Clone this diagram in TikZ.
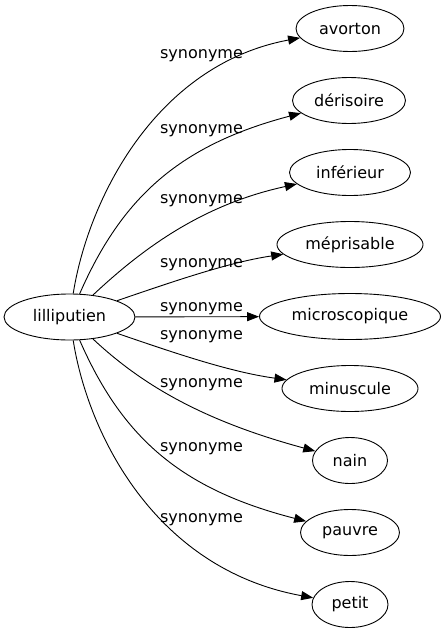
\documentclass[tikz,border=0pt]{standalone}
\usepackage{fontspec}
\setmainfont{DejaVu Sans}
\usetikzlibrary{arrows.meta,shapes.geometric}
\begin{document}
\begin{tikzpicture}[x=1pt,y=-1pt,
  word/.style={draw, ellipse, line width=0.9pt, inner sep=0pt, minimum height=46pt, font=\fontsize{16}{19}\selectfont},
  rel/.style={-{Triangle[length=12pt,width=9pt]}, line width=0.9pt},
  lab/.style={anchor=base, inner sep=0pt, font=\fontsize{16}{19}\selectfont}]
\useasboundingbox (0,0) rectangle (446,635);
\node[word, minimum width=131pt] (lil) at (69.5,317) {lilliputien};
\node[word, minimum width=108pt] (avorton) at (350,28.5) {avorton};
\node[word, minimum width=113pt] (derisoire) at (349,100.5) {dérisoire};
\node[word, minimum width=121pt] (inferieur) at (350,172.5) {inférieur};
\node[word, minimum width=146pt] (meprisable) at (350,244.5) {méprisable};
\node[word, minimum width=181pt] (micro) at (350,316.5) {microscopique};
\node[word, minimum width=136pt] (minuscule) at (350,388.5) {minuscule};
\node[word, minimum width=75pt] (nain) at (350,460.5) {nain};
\node[word, minimum width=99pt] (pauvre) at (350,532.5) {pauvre};
\node[word, minimum width=76pt] (petit) at (350,604.5) {petit};

\node[lab] (l1) at (201.5,58) {synonyme};
\node[lab] (l2) at (201.5,133) {synonyme};
\node[lab] (l3) at (201.5,203) {synonyme};
\node[lab] (l4) at (201.5,267) {synonyme};
\node[lab] (l5) at (201.5,311) {synonyme};
\node[lab] (l6) at (201.5,339) {synonyme};
\node[lab] (l7) at (201.5,387) {synonyme};
\node[lab] (l8) at (201.5,451) {synonyme};
\node[lab] (l9) at (201.5,522) {synonyme};

\draw[rel] (lil) .. controls (88,200) and (155,65) .. (avorton);
\draw[rel] (lil) .. controls (122,197) and (180,145) .. (derisoire);
\draw[rel] (lil) .. controls (140,251) and (200,205) .. (inferieur);
\draw[rel] (lil) .. controls (174.5,281) and (230,262) .. (meprisable);
\draw[rel] (lil) -- (micro);
\draw[rel] (lil) .. controls (174.5,353) and (230,372) .. (minuscule);
\draw[rel] (lil) .. controls (140,383) and (200,420) .. (nain);
\draw[rel] (lil) .. controls (122,437) and (180,489) .. (pauvre);
\draw[rel] (lil) .. controls (88,434) and (155,569) .. (petit);
\end{tikzpicture}
\end{document}
